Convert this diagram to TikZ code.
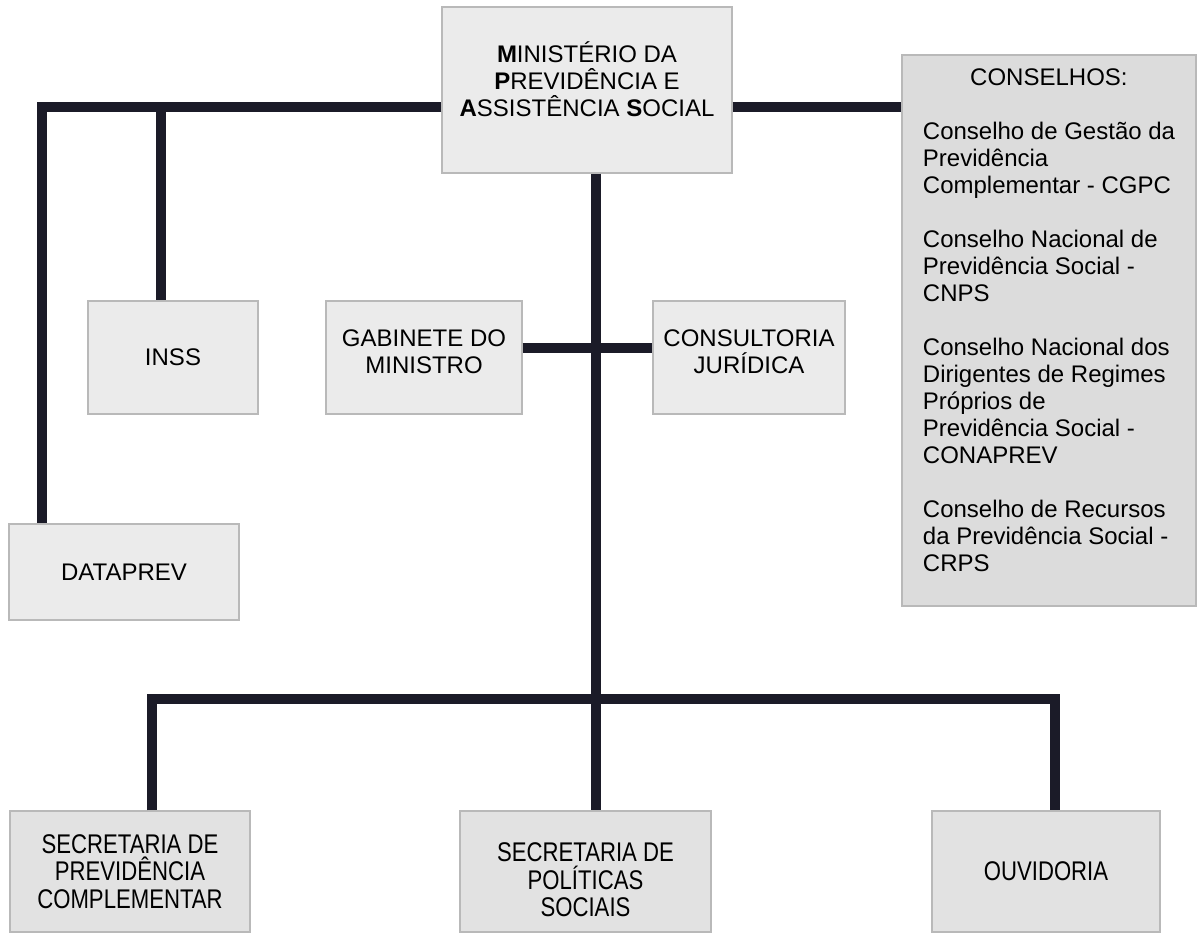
\documentclass[tikz,border=0pt]{standalone}
\usepackage{fontspec}
\setmainfont{Liberation Sans}
\newfontfamily\narrowfont[FakeStretch=0.82]{Liberation Sans}
\usepackage{tikz}
\usepackage{xcolor}
\usetikzlibrary{calc}
\usetikzlibrary{positioning}

\definecolor{boxgray}{HTML}{EBEBEB}
\definecolor{councilgray}{HTML}{DCDCDC}
\definecolor{secgray}{HTML}{E2E2E2}
\definecolor{barblack}{HTML}{1B1B28}

\begin{document}
\begin{tikzpicture}[x=0.5pt, y=-0.5pt]
                % Styles for the boxes and the thick connecting bars
                \tikzstyle{unit box}=[draw=gray!55, line width=0.6pt, fill=boxgray, inner sep=0pt, align=center, font=\fontsize{12}{13.5}\selectfont];
                \tikzstyle{council box}=[unit box, fill=councilgray, align=left];
                \tikzstyle{sec box}=[unit box, fill=secgray, minimum height=60.5pt, font=\narrowfont\fontsize{13.5}{13.75}\selectfont];
                \tikzstyle{bar}=[draw=barblack, line width=5pt];
                
                \useasboundingbox (0,0) rectangle (1202,938);
                
                % Ministry at the top (empty last line lifts the text a little)
                \node[unit box, minimum width=145pt, minimum height=83pt] (mpas) at (587,90)
                    {\textbf{M}INISTÉRIO DA\\\textbf{P}REVIDÊNCIA E\\\textbf{A}SSISTÊNCIA \textbf{S}OCIAL\\[-3pt]\mbox{}};
                
                % Bodies on the left
                \node[unit box, minimum width=85pt, minimum height=56.5pt] (inss) at (173,357.5) {INSS};
                \node[unit box, minimum width=115pt, minimum height=48pt] (dataprev) at (124,572) {DATAPREV};
                
                % Bodies beside the main bar
                \node[unit box, minimum width=98pt, minimum height=56.5pt] (gabinete) at (424,357.5) {GABINETE DO\\MINISTRO\\[-8pt]\mbox{}};
                \node[unit box, minimum width=96pt, minimum height=56.5pt] (consultoria) at (749,357.5) {CONSULTORIA\\JURÍDICA\\[-8pt]\mbox{}};
                
                % Councils on the right
                \node[council box, minimum width=147pt, minimum height=275.5pt] (conselhos) at (1049,330.5) {%
                    \makebox[126pt]{CONSELHOS:}\\[13.5pt]
                    Conselho de Gestão da\\ Previdência\\ Complementar - CGPC\\[13.5pt]
                    Conselho Nacional de\\ Previdência Social -\\ CNPS\\[13.5pt]
                    Conselho Nacional dos\\ Dirigentes de Regimes\\ Próprios de\\ Previdência Social -\\ CONAPREV\\[13.5pt]
                    Conselho de Recursos\\ da Previdência Social -\\ CRPS\\[-3.5pt]\mbox{}};
                
                % Secretariats at the bottom
                \node[sec box, minimum width=120pt] (secprev) at (130,871.5) {SECRETARIA DE\\PREVIDÊNCIA\\COMPLEMENTAR};
                \node[sec box, minimum width=125.5pt] (secpol) at (585.5,871.5) {\mbox{}\\[4pt]SECRETARIA DE\\POLÍTICAS\\SOCIAIS};
                \node[sec box, minimum width=114pt] (ouvidoria) at (1046,871.5) {OUVIDORIA};
                
                % Points where the bars turn
                \coordinate (topleft) at (42,107);
                \coordinate (inssdrop) at (161,107);
                \coordinate (spine) at (596,699);
                \coordinate (cross) at (596,348);
                \coordinate (lowleft) at (152,699);
                \coordinate (lowright) at (1055,699);
                
                % Draw the bars
                \draw[bar] (mpas.west |- topleft) -- (topleft) -- (topleft |- dataprev.north);
                \draw[bar] (inssdrop) -- (inssdrop |- inss.north);
                \draw[bar] (mpas.east |- topleft) -- (conselhos.west |- topleft);
                \draw[bar] (spine |- mpas.south) -- (spine |- secpol.north);
                \draw[bar] (gabinete.east |- cross) -- (consultoria.west |- cross);
                \draw[bar] (lowleft |- secprev.north) -- (lowleft) -- (lowright) -- (lowright |- ouvidoria.north);
                
            \end{tikzpicture}
\end{document}
